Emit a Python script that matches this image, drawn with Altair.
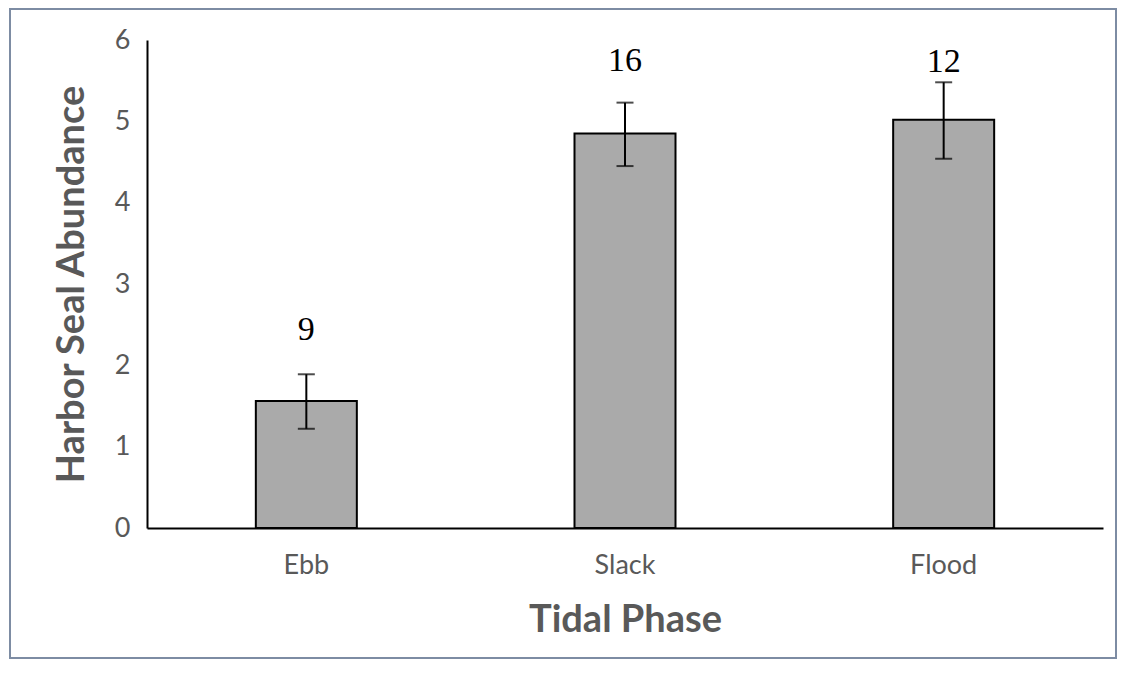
import altair as alt
import pandas as pd

phases = ["Ebb", "Slack", "Flood"]
means = [1.56, 4.85, 5.02]
err_low = [1.22, 4.45, 4.54]
err_high = [1.89, 5.23, 5.48]
counts = ["9", "16", "12"]
label_pos = [2.44, 5.74, 5.73]

df = pd.DataFrame({
    "phase": phases, "mean": means, "lo": err_low, "hi": err_high,
    "n": counts, "lab": label_pos,
})

W, H = 956, 488
gray = "#595959"
font = "Lato"

x = alt.X("phase:N", sort=phases, title="Tidal Phase",
          scale=alt.Scale(paddingInner=0, paddingOuter=0),
          axis=alt.Axis(labelAngle=0, labelFont=font, labelFontSize=27, labelColor=gray,
                        labelPadding=24, ticks=False, domainColor="black", domainWidth=2,
                        titleFont=font, titleFontSize=38, titleFontWeight="bold",
                        titleColor=gray, titleY=92, titleBaseline="middle"))
y = alt.Y("mean:Q", title="Harbor Seal Abundance",
          scale=alt.Scale(domain=[0, 6], nice=False),
          axis=alt.Axis(values=[0, 1, 2, 3, 4, 5, 6], format="d", grid=False, ticks=False,
                        labelFont=font, labelFontSize=27, labelColor=gray, labelPadding=17,
                        domainColor="black", domainWidth=2,
                        titleFont=font, titleFontSize=38, titleFontWeight="bold",
                        titleColor=gray, titleX=-75, titleY=H / 2, titleAngle=-90,
                        titleAlign="center", titleBaseline="middle"))

base = alt.Chart(df)

bars = base.mark_bar(size=101, color="#aaaaaa", stroke="black", strokeWidth=2).encode(x=x, y=y)
rule = base.mark_rule(color="black", strokeWidth=2).encode(x=alt.X("phase:N", sort=phases),
                                                          y=alt.Y("lo:Q"), y2="hi:Q")
cap_lo = base.mark_tick(color="black", size=17, thickness=2).encode(
    x=alt.X("phase:N", sort=phases), y=alt.Y("lo:Q"))
cap_hi = base.mark_tick(color="black", size=17, thickness=2).encode(
    x=alt.X("phase:N", sort=phases), y=alt.Y("hi:Q"))
labels = base.mark_text(font="Liberation Serif", fontSize=34, color="black",
                        baseline="middle").encode(
    x=alt.X("phase:N", sort=phases), y=alt.Y("lab:Q"), text="n:N")

frame = alt.Chart(pd.DataFrame({"k": [0]})).mark_rect(
    fill=None, stroke="#7d8ca3", strokeWidth=2, clip=False).encode(
    x=alt.value(-137), x2=alt.value(W + 13), y=alt.value(-31), y2=alt.value(H + 130))

chart = alt.layer(frame, bars, rule, cap_lo, cap_hi, labels).properties(
    width=W, height=H, background="white",
    padding={"left": 139, "top": 32, "right": 14, "bottom": 134},
    autosize=alt.AutoSizeParams(type="none"),
).configure_view(stroke=None)

chart.save("out.html", embed_options={"renderer": "svg", "actions": False})
